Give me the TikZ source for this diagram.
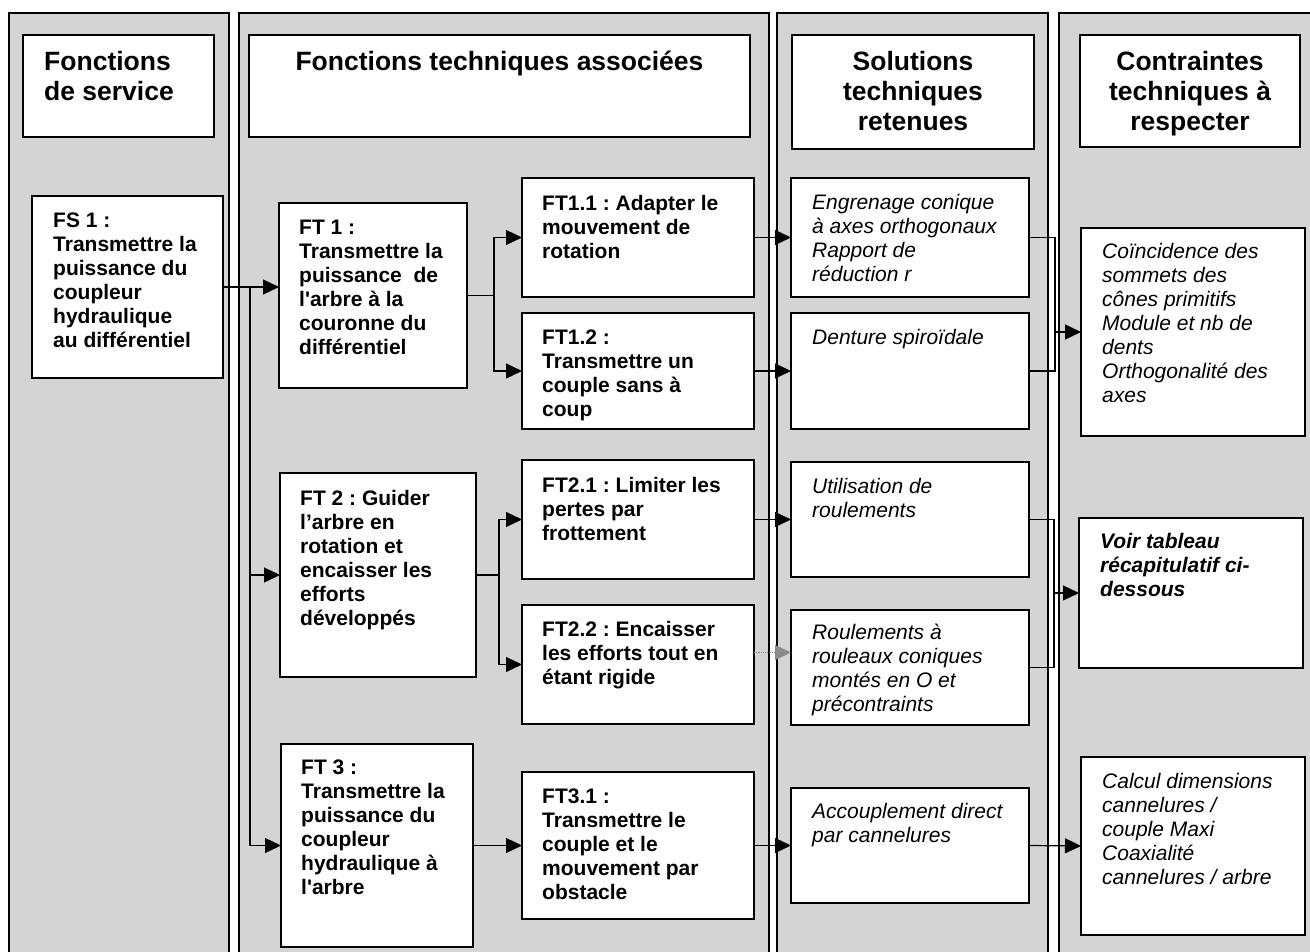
\documentclass[tikz,border=0pt]{standalone}
\usepackage{fontspec}
\setmainfont{Liberation Sans}
\usetikzlibrary{positioning, arrows.meta, calc}
\definecolor{fondgris}{HTML}{D4D4D4}
\definecolor{traitgris}{HTML}{8A8A8A}
\frenchspacing

\begin{document}
\begin{tikzpicture}[
  x=1pt, y=-1pt,
  colonne/.style={
    rectangle, draw, line width=1.4pt, fill=fondgris,
    anchor=north west, inner sep=0pt, outer sep=0pt
  },
  cadre/.style={
    rectangle, draw, line width=1.4pt, fill=white,
    anchor=north west, inner sep=0pt, outer sep=0pt
  },
  titre/.style={font=\fontsize{26.5}{30}\selectfont\bfseries,
    align=center, anchor=north, inner sep=0pt},
  fonction/.style={font=\fontsize{21}{24}\selectfont\bfseries,
    align=left, anchor=north west, inner sep=0pt},
  solution/.style={font=\fontsize{21}{24}\selectfont\itshape,
    align=left, anchor=north west, inner sep=0pt},
  fl/.style={-{Triangle[length=16pt, width=15pt]}, line width=1.2pt},
]

\useasboundingbox (0,0) rectangle (1310,952);
\clip (0,0) rectangle (1310,952);
\fill[white] (0,0) rectangle (1310,952);

% Colonnes
\node[colonne, minimum width=220, minimum height=960] (col1) at (9,13) {};
\node[colonne, minimum width=530, minimum height=960] (col2) at (239,13) {};
\node[colonne, minimum width=271, minimum height=960] (col3) at (777,13) {};
\node[colonne, minimum width=270, minimum height=960] (col4) at (1059,13) {};

% En-tetes
\node[cadre, minimum width=191, minimum height=102] (hfs) at (23,35) {};
\node[titre, anchor=north west, align=left] at ([shift={(21,16)}]hfs.north west)
  {Fonctions\\de service};
\node[cadre, minimum width=501, minimum height=102] (hft) at (249,35) {};
\node[titre] at ([shift={(0,16)}]hft.north) {Fonctions techniques associées};
\node[cadre, minimum width=242, minimum height=114] (hst) at (792,35) {};
\node[titre] at ([shift={(0,16)}]hst.north) {Solutions\\techniques\\retenues};
\node[cadre, minimum width=220, minimum height=112] (hct) at (1080,35) {};
\node[titre] at ([shift={(0,16)}]hct.north) {Contraintes\\techniques à\\respecter};

% Fonction de service
\node[cadre, minimum width=191, minimum height=182] (fs1) at (32,196) {};
\node[fonction] at ([shift={(21,17)}]fs1.north west) {
  FS 1 :\\Transmettre la\\puissance du\\coupleur\\hydraulique\\au différentiel};

% Fonctions techniques
\node[cadre, minimum width=188, minimum height=185] (ft1) at (279,203) {};
\node[fonction] at ([shift={(20,17)}]ft1.north west) {
  FT 1 :\\Transmettre la\\puissance \ de\\l\textquotesingle arbre à la\\couronne du\\différentiel};
\node[cadre, minimum width=196, minimum height=204] (ft2) at (280,473) {};
\node[fonction] at ([shift={(20,17)}]ft2.north west) {
  FT 2 : Guider\\l’arbre en\\rotation et\\encaisser les\\efforts\\développés};
\node[cadre, minimum width=192, minimum height=203] (ft3) at (281,744) {};
\node[fonction] at ([shift={(20,16)}]ft3.north west) {
  FT 3 :\\Transmettre la\\puissance du\\coupleur\\hydraulique à\\l\textquotesingle arbre};

\node[cadre, minimum width=232, minimum height=119] (ft11) at (522,178) {};
\node[fonction] at ([shift={(20,17)}]ft11.north west) {
  FT1.1 : Adapter le\\mouvement de\\rotation};
\node[cadre, minimum width=232, minimum height=116] (ft12) at (522,313) {};
\node[fonction] at ([shift={(20,17)}]ft12.north west) {
  FT1.2 :\\Transmettre un\\couple sans à\\coup};
\node[cadre, minimum width=232, minimum height=119] (ft21) at (522,460) {};
\node[fonction] at ([shift={(20,17)}]ft21.north west) {
  FT2.1 : Limiter les\\pertes par\\frottement};
\node[cadre, minimum width=232, minimum height=119] (ft22) at (522,605) {};
\node[fonction] at ([shift={(20,16)}]ft22.north west) {
  FT2.2 : Encaisser\\les efforts tout en\\étant rigide};
\node[cadre, minimum width=232, minimum height=147] (ft31) at (522,772) {};
\node[fonction] at ([shift={(20,17)}]ft31.north west) {
  FT3.1 :\\Transmettre le\\couple et le\\mouvement par\\obstacle};

% Solutions techniques
\node[cadre, minimum width=238, minimum height=119] (st1) at (791,178) {};
\node[solution] at ([shift={(21,16)}]st1.north west) {
  Engrenage conique\\à axes orthogonaux\\Rapport de\\réduction r};
\node[cadre, minimum width=238, minimum height=116] (st2) at (791,313) {};
\node[solution] at ([shift={(21,16)}]st2.north west) {Denture spiroïdale};
\node[cadre, minimum width=238, minimum height=115] (st3) at (791,462) {};
\node[solution] at ([shift={(21,16)}]st3.north west) {Utilisation de\\roulements};
\node[cadre, minimum width=238, minimum height=115] (st4) at (791,610) {};
\node[solution] at ([shift={(21,14)}]st4.north west) {
  Roulements à\\rouleaux coniques\\montés en O et\\précontraints};
\node[cadre, minimum width=238, minimum height=115] (st5) at (791,788) {};
\node[solution] at ([shift={(21,15)}]st5.north west) {
  Accouplement direct\\par cannelures};

% Contraintes
\node[cadre, minimum width=224, minimum height=208] (ct1) at (1081,228) {};
\node[solution] at ([shift={(21,15)}]ct1.north west) {
  Coïncidence des\\sommets des\\cônes primitifs\\Module et nb de\\dents\\Orthogonalité des\\axes};
\node[cadre, minimum width=224, minimum height=150] (ct2) at (1079,518) {};
\node[solution, font=\fontsize{21}{24}\selectfont\bfseries\itshape]
  at ([shift={(21,15)}]ct2.north west) {Voir tableau\\récapitulatif ci-\\dessous};
\node[cadre, minimum width=224, minimum height=178] (ct3) at (1081,757) {};
\node[solution] at ([shift={(21,16)}]ct3.north west) {
  Calcul dimensions\\cannelures /\\couple Maxi\\Coaxialité\\cannelures / arbre};

% Liaisons FS -> FT
\draw[fl] (fs1.east) -- (fs1.east -| ft1.west);
\coordinate (bus) at ([shift={(27,0)}]fs1.east);
\draw[fl] (bus) |- (ft2.west);
\draw[fl] (bus) |- (ft3.west);

% Liaisons FT -> FT detaillees
\coordinate (b1) at ([shift={(27,0)}]ft1.east);
\draw[line width=1.2pt] (ft1.east) -- (b1);
\draw[fl] (b1) |- (ft11.west);
\draw[fl] (b1) |- (ft12.west);
\coordinate (b2) at ([shift={(23,0)}]ft2.east);
\draw[line width=1.2pt] (ft2.east) -- (b2);
\draw[fl] (b2) |- (ft21.west);
\draw[fl] (b2) |- (ft22.west);
\draw[fl] (ft3.east) -- (ft31.west);

% Liaisons FT -> ST
\draw[fl] (ft11.east) -- (st1.west);
\draw[fl] (ft12.east) -- (st2.west);
\draw[fl] (ft21.east) -- (st3.west);
\coordinate (d22) at ([shift={(0,-12)}]ft22.east);
\draw[fl, densely dotted, traitgris] (d22) -- (d22 -| st4.west);
\draw[fl] (ft31.east) -- (st5.west);

% Liaisons ST -> CT
\coordinate (b3) at ([shift={(26,0)}]st1.east);
\draw[line width=1.2pt] (st1.east) -- (b3) -- (b3 |- st2.east) -- (st2.east);
\draw[fl] (b3 |- ct1.west) -- (ct1.west);
\coordinate (b4) at ([shift={(25,0)}]st3.east);
\draw[line width=1.2pt] (st3.east) -- (b4) -- (b4 |- st4.east) -- (st4.east);
\draw[fl] (b4 |- ct2.west) -- (ct2.west);
\draw[fl] (st5.east) -- (ct3.west);

\end{tikzpicture}
\end{document}
